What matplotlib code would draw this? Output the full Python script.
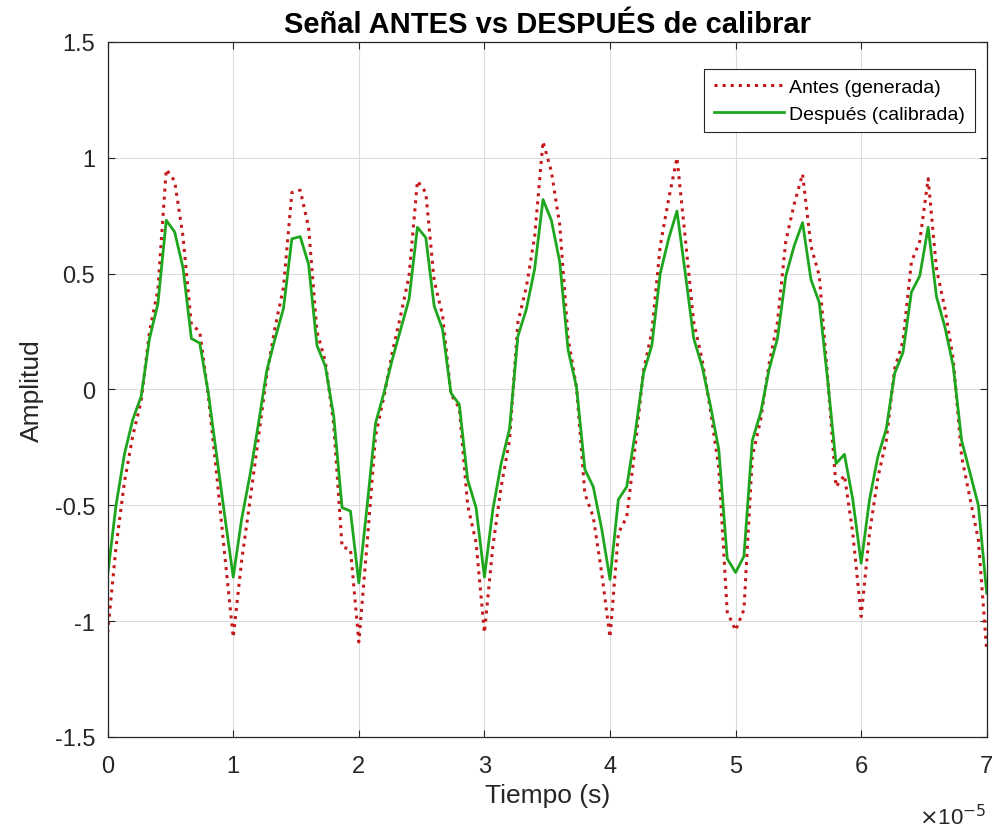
import numpy as np
import matplotlib
matplotlib.use("Agg")
import matplotlib.pyplot as plt

plt.rcParams['font.family'] = ['Liberation Sans', 'DejaVu Sans']

# muestreo: 15 muestras por periodo de 10 us
dt = 1e-5 / 15
n_samples = 106

antes = [-1.05, -0.68, -0.40, -0.20, -0.05, 0.25, 0.43, 0.95, 0.90, 0.66,
         0.28, 0.25, -0.02, -0.36, -0.72, -1.07, -0.74, -0.48, -0.21, 0.06,
         0.27, 0.44, 0.85, 0.86, 0.70, 0.25, 0.12, -0.15, -0.68, -0.69,
         -1.09, -0.66, -0.20, -0.03, 0.16, 0.32, 0.49, 0.90, 0.85, 0.47,
         0.32, -0.02, -0.08, -0.50, -0.66, -1.05, -0.68, -0.42, -0.22, 0.29,
         0.44, 0.66, 1.07, 0.94, 0.71, 0.22, 0.01, -0.45, -0.55, -0.79,
         -1.07, -0.62, -0.55, -0.25, 0.08, 0.25, 0.62, 0.82, 1.00, 0.65,
         0.29, 0.13, -0.09, -0.34, -0.96, -1.04, -0.95, -0.29, -0.13, 0.11,
         0.29, 0.64, 0.80, 0.93, 0.62, 0.49, 0.05, -0.42, -0.37, -0.62,
         -0.98, -0.62, -0.38, -0.22, 0.09, 0.21, 0.55, 0.64, 0.91, 0.52,
         0.35, 0.13, -0.29, -0.47, -0.65, -1.13]

despues = [-0.80, -0.50, -0.28, -0.13, -0.03, 0.22, 0.37, 0.73, 0.68, 0.525,
           0.22, 0.20, -0.01, -0.28, -0.55, -0.81, -0.56, -0.37, -0.15, 0.08,
           0.22, 0.35, 0.65, 0.66, 0.54, 0.19, 0.10, -0.115, -0.51, -0.525,
           -0.835, -0.50, -0.145, -0.015, 0.13, 0.26, 0.39, 0.70, 0.655, 0.36,
           0.26, -0.015, -0.065, -0.39, -0.51, -0.81, -0.52, -0.32, -0.17, 0.23,
           0.345, 0.52, 0.82, 0.73, 0.55, 0.17, 0.01, -0.345, -0.42, -0.60,
           -0.82, -0.475, -0.42, -0.19, 0.07, 0.19, 0.50, 0.65, 0.77, 0.50,
           0.22, 0.10, -0.07, -0.26, -0.73, -0.79, -0.72, -0.22, -0.10, 0.086,
           0.22, 0.49, 0.62, 0.72, 0.475, 0.375, 0.04, -0.32, -0.28, -0.475,
           -0.75, -0.475, -0.29, -0.17, 0.07, 0.16, 0.42, 0.49, 0.70, 0.40,
           0.27, 0.10, -0.22, -0.36, -0.50, -0.88]

x_ticks = [0, 1, 2, 3, 4, 5, 6, 7]
y_ticks = [-1.5, -1, -0.5, 0, 0.5, 1, 1.5]
y_ticklabels = ['-1.5', '-1', '-0.5', '0', '0.5', '1', '1.5']

t = np.arange(n_samples) * dt

fig = plt.figure(figsize=(9.95, 8.29), dpi=100)
ax = fig.add_axes([0.1082, 0.1098, 0.8835, 0.8384])

axcol = '#262626'
ax.plot(t, antes, linestyle=':', color='#c41a1c', linewidth=2.2, label='Antes (generada)')
ax.plot(t, despues, linestyle='-', color='#1fa61f', linewidth=2.0, label='Después (calibrada)')

ax.set_xlim(0, 7e-5)
ax.set_ylim(-1.5, 1.5)
ax.set_xticks([v * 1e-5 for v in x_ticks])
ax.set_xticklabels([str(v) for v in x_ticks])
ax.set_yticks(y_ticks)
ax.set_yticklabels(y_ticklabels)

ax.grid(True, color='#dcdcdc', linewidth=0.8)
ax.set_axisbelow(True)
ax.tick_params(direction='in', length=5, width=0.8, top=True, right=True,
               labelsize=17, colors=axcol)
ax.tick_params(axis='x', pad=13)
ax.tick_params(axis='y', pad=9)
for s in ax.spines.values():
    s.set_color(axcol)
    s.set_linewidth(0.9)

ax.set_xlabel('Tiempo (s)', fontsize=19, color=axcol, labelpad=4)
ax.set_ylabel('Amplitud', fontsize=19, color=axcol, labelpad=8)
ax.set_title('Señal ANTES vs DESPUÉS de calibrar', fontsize=21, fontweight='bold',
             color='black', pad=7)
ax.text(1.0, -0.097, r'$\times$10$^{-5}$', transform=ax.transAxes, ha='right', va='top',
        fontsize=16, color=axcol)

leg = ax.legend(loc='upper right', bbox_to_anchor=(0.9866, 0.9612), borderaxespad=0,
                fontsize=14, frameon=True, fancybox=False, edgecolor=axcol,
                framealpha=1, handlelength=3.6, handletextpad=0.3,
                borderpad=0.5, labelspacing=0.45)
leg.get_frame().set_linewidth(0.8)

fig.savefig('out.png', dpi=100)
